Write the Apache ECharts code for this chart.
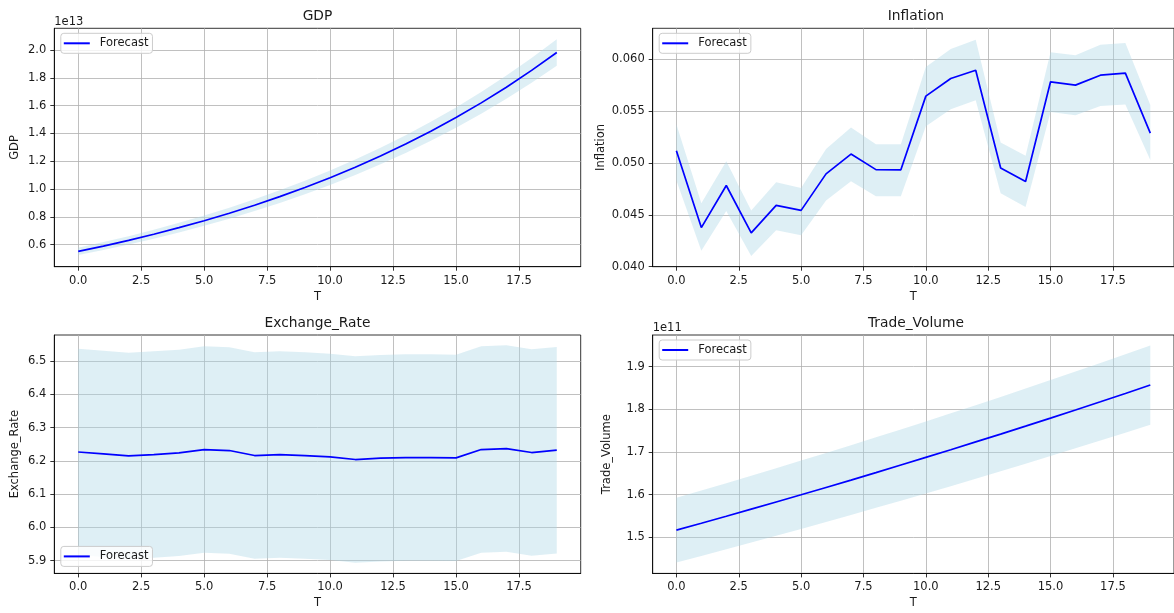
<!DOCTYPE html>
<html>
<head>
<meta charset="utf-8">
<script src="https://cdn.jsdelivr.net/npm/echarts@6/dist/echarts.min.js"></script>
<style>
  html, body { margin: 0; padding: 0; background: #ffffff; }
  #chart { width: 1174px; height: 613px; }
</style>
</head>
<body>
<div id="chart"></div>
<script>
// Forecast horizon
const steps = [0, 1, 2, 3, 4, 5, 6, 7, 8, 9, 10, 11, 12, 13, 14, 15, 16, 17, 18, 19];
const xTicks = [0, 2.5, 5, 7.5, 10, 12.5, 15, 17.5];

// GDP forecast with confidence band
const gdpForecast = [0.552e13, 0.5904e13, 0.6315e13, 0.6755e13, 0.7225e13, 0.7727e13, 0.8265e13, 0.8841e13, 0.9456e13, 1.0114e13,
  1.0818e13, 1.1571e13, 1.2376e13, 1.3238e13, 1.4159e13, 1.5145e13, 1.6199e13, 1.7326e13, 1.8532e13, 1.9822e13];
const gdpUpper = [0.5785e13, 0.6187e13, 0.6618e13, 0.7079e13, 0.7572e13, 0.8098e13, 0.8662e13, 0.9265e13, 0.9910e13, 1.0599e13,
  1.1337e13, 1.2126e13, 1.2970e13, 1.3873e13, 1.4839e13, 1.5872e13, 1.6977e13, 1.8158e13, 1.9422e13, 2.0773e13];
const gdpLower = [0.5255e13, 0.5621e13, 0.6012e13, 0.6431e13, 0.6878e13, 0.7356e13, 0.7868e13, 0.8417e13, 0.9002e13, 0.9629e13,
  1.0299e13, 1.1016e13, 1.1782e13, 1.2603e13, 1.3479e13, 1.4418e13, 1.5421e13, 1.6494e13, 1.7642e13, 1.8871e13];
const gdpTicks = [0.6e13, 0.8e13, 1.0e13, 1.2e13, 1.4e13, 1.6e13, 1.8e13, 2.0e13];

// Inflation forecast with confidence band
const inflationForecast = [0.05118, 0.04377, 0.04783, 0.04326, 0.04591, 0.04543, 0.04895, 0.05086, 0.04936, 0.04934,
  0.05645, 0.05815, 0.05895, 0.04952, 0.04821, 0.05783, 0.05751, 0.05847, 0.05866, 0.05288];
const inflationUpper = [0.05374, 0.04613, 0.05016, 0.04543, 0.04815, 0.04760, 0.05134, 0.05342, 0.05182, 0.05182,
  0.05927, 0.06099, 0.06188, 0.05198, 0.05070, 0.06067, 0.06038, 0.06141, 0.06157, 0.05559];
const inflationLower = [0.04831, 0.04153, 0.04537, 0.04102, 0.04351, 0.04304, 0.04639, 0.04824, 0.04680, 0.04680,
  0.05355, 0.05518, 0.05604, 0.04709, 0.04575, 0.05492, 0.05460, 0.05550, 0.05565, 0.05029];
const inflationTicks = [0.040, 0.045, 0.050, 0.055, 0.060];

// Exchange rate forecast with confidence band
const exchangeForecast = [6.2266, 6.221, 6.215, 6.219, 6.224, 6.234, 6.231, 6.216, 6.219, 6.216,
  6.212, 6.204, 6.208, 6.210, 6.210, 6.209, 6.234, 6.237, 6.225, 6.232];
const exchangeUpper = [6.537, 6.531, 6.525, 6.529, 6.534, 6.544, 6.541, 6.526, 6.529, 6.526,
  6.522, 6.514, 6.518, 6.520, 6.520, 6.519, 6.544, 6.547, 6.535, 6.542];
const exchangeLower = [5.917, 5.911, 5.905, 5.909, 5.914, 5.924, 5.921, 5.906, 5.909, 5.906,
  5.902, 5.894, 5.898, 5.900, 5.900, 5.899, 5.924, 5.927, 5.915, 5.922];
const exchangeTicks = [5.9, 6.0, 6.1, 6.2, 6.3, 6.4, 6.5];

// Trade volume forecast with confidence band
const tradeForecast = [1.5170e11, 1.5332e11, 1.5496e11, 1.5662e11, 1.5830e11, 1.5999e11, 1.6170e11, 1.6343e11, 1.6518e11, 1.6695e11,
  1.6874e11, 1.7054e11, 1.7237e11, 1.7421e11, 1.7608e11, 1.7796e11, 1.7986e11, 1.8179e11, 1.8373e11, 1.8570e11];
const tradeUpper = [1.5929e11, 1.6099e11, 1.6271e11, 1.6445e11, 1.6622e11, 1.6799e11, 1.6979e11, 1.7160e11, 1.7344e11, 1.7530e11,
  1.7718e11, 1.7907e11, 1.8099e11, 1.8292e11, 1.8488e11, 1.8686e11, 1.8885e11, 1.9088e11, 1.9292e11, 1.9499e11];
const tradeLower = [1.4412e11, 1.4565e11, 1.4721e11, 1.4879e11, 1.5039e11, 1.5199e11, 1.5362e11, 1.5526e11, 1.5692e11, 1.5860e11,
  1.6030e11, 1.6201e11, 1.6375e11, 1.6550e11, 1.6728e11, 1.6906e11, 1.7087e11, 1.7270e11, 1.7454e11, 1.7642e11];
const tradeTicks = [1.5e11, 1.6e11, 1.7e11, 1.8e11, 1.9e11];

const FONT = 'DejaVu Sans';
const TEXT = '#1a1a1a';
const FS = 11.5;

// Panel frames (pixels)
const panels = [
  { left: 54.3, top: 28.3 },
  { left: 652.7, top: 28.3 },
  { left: 54.3, top: 335 },
  { left: 652.7, top: 335 }
];
const PW = 526.4, PH = 238.4;

// Panel content: y range keeps a 5% margin around the band
const specs = [
  { title: 'GDP', yName: 'GDP', nameGap: 33, yMin: 0.442e13, yMax: 2.156e13, ticks: gdpTicks,
    fmt: v => (v / 1e13).toFixed(1), mid: gdpForecast, up: gdpUpper, lo: gdpLower, exp: '1e13', legendBottom: false },
  { title: 'Inflation', yName: 'Inflation', nameGap: 46, yMin: 0.040, yMax: 0.06299, ticks: inflationTicks,
    fmt: v => v.toFixed(3), mid: inflationForecast, up: inflationUpper, lo: inflationLower, exp: null, legendBottom: false },
  { title: 'Exchange_Rate', yName: 'Exchange_Rate', nameGap: 33, yMin: 5.862, yMax: 6.578, ticks: exchangeTicks,
    fmt: v => v.toFixed(1), mid: exchangeForecast, up: exchangeUpper, lo: exchangeLower, exp: null, legendBottom: true },
  { title: 'Trade_Volume', yName: 'Trade_Volume', nameGap: 40, yMin: 1.4156e11, yMax: 1.9743e11, ticks: tradeTicks,
    fmt: v => (v / 1e11).toFixed(1), mid: tradeForecast, up: tradeUpper, lo: tradeLower, exp: '1e11', legendBottom: false }
];

const pairs = arr => steps.map((t, i) => [t, arr[i]]);

// Shaded band between lower and upper bounds, drawn as one polygon in data coordinates
function bandRenderer(lo, up) {
  return function (params, api) {
    if (params.dataIndex !== 0) return null;
    const top = steps.map((t, i) => api.coord([t, up[i]]));
    const bottom = steps.map((t, i) => api.coord([t, lo[i]])).reverse();
    return {
      type: 'polygon',
      shape: { points: top.concat(bottom) },
      style: { fill: '#add8e6', opacity: 0.4 },
      silent: true
    };
  };
}

const option = {
  animation: false,
  backgroundColor: '#ffffff',
  textStyle: { fontFamily: FONT },
  title: [], grid: [], xAxis: [], yAxis: [], series: [], legend: [], graphic: []
};

specs.forEach((s, k) => {
  const p = panels[k];
  option.grid.push({
    left: p.left, top: p.top, width: PW, height: PH,
    show: true, borderColor: '#000000', borderWidth: 0.8, backgroundColor: 'transparent'
  });
  option.title.push({
    text: s.title, left: p.left + PW / 2, top: p.top - 19, textAlign: 'center', padding: 0,
    textStyle: { fontFamily: FONT, fontSize: 13.8, fontWeight: 'normal', color: TEXT }
  });
  option.xAxis.push({
    type: 'value', gridIndex: k, min: -0.95, max: 19.95,
    name: 'T', nameLocation: 'middle', nameGap: 24,
    nameTextStyle: { fontFamily: FONT, fontSize: FS, color: TEXT },
    axisLine: { show: true, onZero: false, lineStyle: { color: '#000000', width: 0.8 } },
    axisTick: { show: true, length: 4, inside: false, customValues: xTicks, lineStyle: { color: '#000000', width: 0.8 } },
    axisLabel: { customValues: xTicks, margin: 8, fontFamily: FONT, fontSize: FS, color: TEXT,
      formatter: v => v.toFixed(1) },
    splitLine: { show: true, lineStyle: { color: '#b0b0b0', width: 0.8 } }
  });
  option.yAxis.push({
    type: 'value', gridIndex: k, min: s.yMin, max: s.yMax,
    name: s.yName, nameLocation: 'middle', nameGap: s.nameGap,
    nameTextStyle: { fontFamily: FONT, fontSize: FS, color: TEXT },
    axisLine: { show: true, onZero: false, lineStyle: { color: '#000000', width: 0.8 } },
    axisTick: { show: true, length: 4, inside: false, customValues: s.ticks, lineStyle: { color: '#000000', width: 0.8 } },
    axisLabel: { customValues: s.ticks, margin: 8, fontFamily: FONT, fontSize: FS, color: TEXT, formatter: s.fmt },
    splitLine: { show: true, lineStyle: { color: '#b0b0b0', width: 0.8 } }
  });
  option.series.push({
    name: 'interval' + k, type: 'custom', xAxisIndex: k, yAxisIndex: k,
    renderItem: bandRenderer(s.lo, s.up),
    data: pairs(s.mid), encode: { x: 0, y: 1 }, clip: true, silent: true, z: 1
  });
  option.series.push({
    name: 'Forecast', type: 'line', xAxisIndex: k, yAxisIndex: k,
    data: pairs(s.mid), symbol: 'none', lineStyle: { color: '#0000ff', width: 1.7 },
    itemStyle: { color: '#0000ff' }, z: 3
  });
  const legend = {
    data: ['Forecast'], left: p.left + 6.5, icon: 'rect', itemWidth: 26, itemHeight: 2,
    backgroundColor: 'rgba(255,255,255,0.8)', borderColor: '#cccccc', borderWidth: 1, borderRadius: 3,
    padding: [4, 4, 4, 3], selectedMode: false,
    textStyle: { fontFamily: FONT, fontSize: FS, color: TEXT, padding: [0, 0, 0, 5] }
  };
  legend.top = s.legendBottom ? p.top + PH - 27 : p.top + 5;
  option.legend.push(legend);
  if (s.exp) {
    option.graphic.push({
      type: 'text', left: p.left, top: p.top - 12.5,
      style: { text: s.exp, fontFamily: FONT, fontSize: FS, fill: TEXT }
    });
  }
});

const chart = echarts.init(document.getElementById('chart'), null, { renderer: 'canvas' });
chart.setOption(option);
</script>
</body>
</html>
